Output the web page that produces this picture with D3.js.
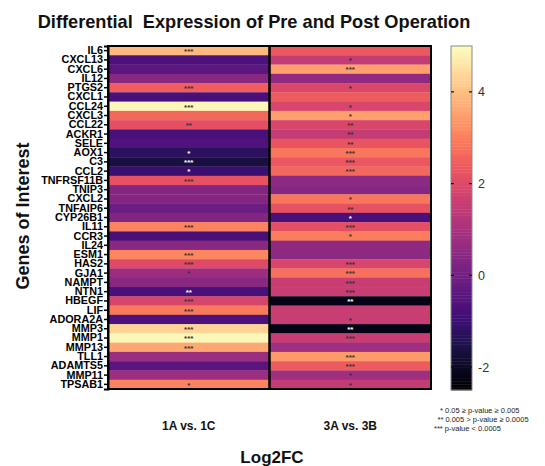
<!DOCTYPE html>
<html>
<head>
<meta charset="utf-8">
<script src="https://cdn.jsdelivr.net/npm/d3@7"></script>
<style>
  html, body { margin: 0; padding: 0; background: #fff; }
  svg { display: block; font-family: "Liberation Sans", Arial, sans-serif; }
</style>
</head>
<body>
<svg id="chart" width="545" height="466"></svg>
<script>
const genes = ["IL6","CXCL13","CXCL6","IL12","PTGS2","CXCL1","CCL24","CXCL3","CCL22","ACKR1","SELE","AOX1","C3","CCL2","TNFRSF11B","TNIP3","CXCL2","TNFAIP6","CYP26B1","IL11","CCR3","IL24","ESM1","HAS2","GJA1","NAMPT","NTN1","HBEGF","LIF","ADORA2A","MMP3","MMP1","MMP13","TLL1","ADAMTS5","MMP11","TPSAB1"];
const comparisons = ["1A vs. 1C", "3A vs. 3B"];
const log2fc_1A_1C = [3.9,-0.7,-0.4,0.43,2.45,-0.74,4.9,2.6,2.15,-0.74,-0.6,-1.26,-1.64,-1.0,2.2,0.35,0.35,-0.1,0.3,3.05,-0.75,0.43,3.1,2.0,0.76,0.43,-0.74,1.85,2.9,-0.7,4.3,4.9,3.6,0.76,-0.44,0.76,3.05];
const log2fc_3A_3B = [2.35,1.5,3.5,0.55,1.95,2.4,1.9,3.5,1.9,1.5,2.25,2.85,2.3,2.6,0.5,0.4,2.85,2.2,-0.74,2.15,2.95,0.55,0.5,1.9,2.75,1.6,1.6,-2.2,1.6,1.6,-2.2,1.55,0.85,3.4,2.4,0.85,1.5];
const stars_1A_1C = ["***","","","","***","","***","","**","","","*","***","*","***","","","","","***","","","***","***","*","","**","***","***","","***","***","***","","","","*"];
const stars_3A_3B = ["","*","***","","*","","*","*","**","**","**","***","***","***","","","*","**","*","***","*","","","***","***","***","***","**","","*","**","***","","***","***","*","*"];
const colorTicks = [-2, 0, 2, 4];
const colorDomain = [-2.5, 5];
const footnotes = ["* 0.05 \u2265 p-value \u2265 0.005", "** 0.005 > p-value \u2265 0.0005", "*** p-value < 0.0005"];

const svg = d3.select("#chart");

const x = d3.scaleBand().domain(comparisons).range([108, 431]).padding(0);
const y = d3.scaleBand().domain(genes).range([46, 389]).padding(0);
const color = d3.scaleSequential(d3.interpolateMagma).domain(colorDomain);

const series = [log2fc_1A_1C, log2fc_3A_3B];
const starSeries = [stars_1A_1C, stars_3A_3B];
const cells = [];
comparisons.forEach((c, ci) => {
  genes.forEach((g, gi) => {
    cells.push({ c, g, v: series[ci][gi], s: starSeries[ci][gi] });
  });
});

// Title (fitted to the reference width)
const title = svg.append("text")
  .attr("x", 254).attr("y", 28)
  .attr("text-anchor", "middle")
  .attr("font-weight", "bold")
  .attr("font-size", 17)
  .attr("fill", "#111")
  .attr("xml:space", "preserve")
  .text("Differential  Expression of Pre and Post Operation");
const tw = title.node().getComputedTextLength();
if (tw > 0) title.attr("font-size", Math.min(19, 17 * 433 / tw));

// Cells
svg.append("g").selectAll("rect")
  .data(cells).join("rect")
  .attr("x", d => x(d.c))
  .attr("y", d => y(d.g))
  .attr("width", x.bandwidth())
  .attr("height", y.bandwidth() + 0.3)
  .attr("fill", d => color(d.v));

// Stars
svg.append("g").selectAll("text")
  .data(cells.filter(d => d.s)).join("text")
  .attr("x", d => x(d.c) + x.bandwidth() / 2)
  .attr("y", d => y(d.g) + y.bandwidth() / 2 + 3.3)
  .attr("text-anchor", "middle")
  .attr("font-size", 8)
  .attr("font-weight", "bold")
  .attr("fill", d => d.v < 0 ? "#ffffff" : "#333333")
  .text(d => d.s);

// Borders
comparisons.forEach(c => {
  svg.append("rect")
    .attr("x", x(c)).attr("y", 46)
    .attr("width", x.bandwidth()).attr("height", 343)
    .attr("fill", "none").attr("stroke", "#000").attr("stroke-width", 2);
});

// Y axis
const yAxis = d3.axisLeft(y).tickSize(4).tickPadding(1);
const yg = svg.append("g").attr("transform", "translate(108,0)").call(yAxis);
yg.select(".domain").attr("stroke", "#000").attr("stroke-width", 2);
yg.selectAll(".tick line").attr("stroke", "#000").attr("stroke-width", 1.5);
yg.selectAll(".tick text")
  .attr("font-size", 10.8)
  .attr("font-weight", "bold")
  .attr("fill", "#000")
  .attr("font-family", "'Liberation Sans', Arial, sans-serif");

// Y axis title
svg.append("text")
  .attr("transform", "translate(29,216) rotate(-90)")
  .attr("text-anchor", "middle")
  .attr("font-weight", "bold")
  .attr("font-size", 18)
  .attr("fill", "#111")
  .text("Genes of Interest");

// X labels
svg.append("g").selectAll("text")
  .data(comparisons).join("text")
  .attr("x", d => x(d) + x.bandwidth() / 2)
  .attr("y", 430)
  .attr("text-anchor", "middle")
  .attr("font-weight", "bold")
  .attr("font-size", 12)
  .attr("fill", "#111")
  .text(d => d);

svg.append("text")
  .attr("x", 272).attr("y", 463)
  .attr("text-anchor", "middle")
  .attr("font-weight", "bold")
  .attr("font-size", 17)
  .attr("fill", "#111")
  .text("Log2FC");

// Colorbar
const cbX = 451, cbW = 21;
const cy = d3.scaleLinear().domain(colorDomain).range([390, 46]);
const nSteps = 120;
const steps = d3.range(nSteps).map(i => colorDomain[0] + (colorDomain[1] - colorDomain[0]) * (i + 0.5) / nSteps);
const stepH = (390 - 46) / nSteps;
svg.append("g").selectAll("rect")
  .data(steps).join("rect")
  .attr("x", cbX)
  .attr("y", d => cy(d) - stepH / 2)
  .attr("width", cbW)
  .attr("height", stepH + 0.4)
  .attr("fill", d => color(d));
svg.append("rect")
  .attr("x", cbX).attr("y", 46).attr("width", cbW).attr("height", 344)
  .attr("fill", "none").attr("stroke", "#888").attr("stroke-width", 1);
const cbg = svg.append("g");
colorTicks.forEach(t => {
  cbg.append("line").attr("x1", cbX).attr("x2", cbX + 3).attr("y1", cy(t)).attr("y2", cy(t)).attr("stroke", "#111").attr("stroke-width", 1.2);
  cbg.append("line").attr("x1", cbX + cbW - 3).attr("x2", cbX + cbW).attr("y1", cy(t)).attr("y2", cy(t)).attr("stroke", "#111").attr("stroke-width", 1.2);
  cbg.append("text").attr("x", 478).attr("y", cy(t) + 4.5)
    .attr("font-size", 12.5).attr("fill", "#333").text(t);
});

// Footnotes
const fnX = [440, 437.5, 434];
svg.append("g").selectAll("text")
  .data(footnotes).join("text")
  .attr("x", (d, i) => fnX[i])
  .attr("y", (d, i) => 413 + i * 9)
  .attr("font-size", 7.5)
  .attr("fill", "#222")
  .text(d => d);
</script>
</body>
</html>
